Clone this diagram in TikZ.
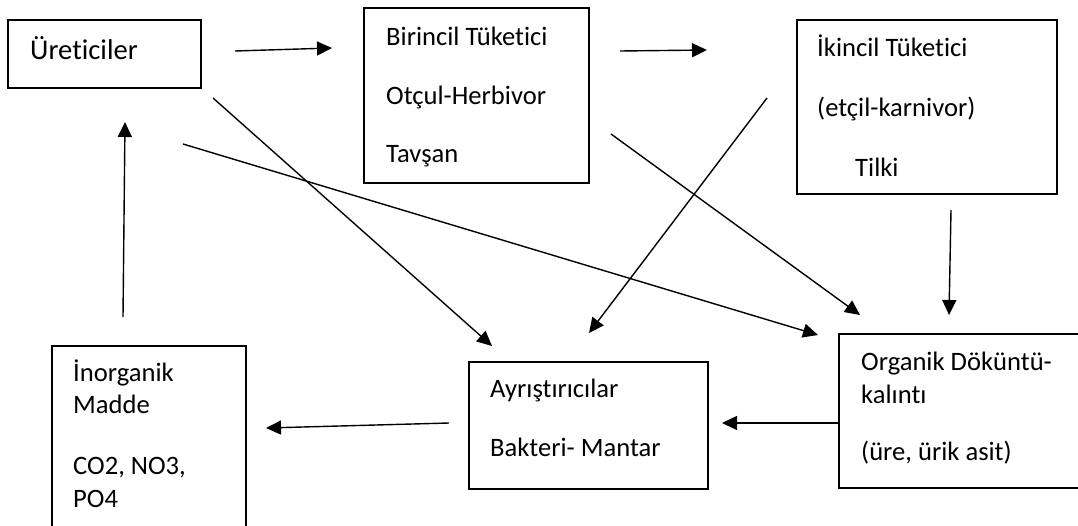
\documentclass[tikz,border=0pt]{standalone}
\usepackage{fontspec}
\setmainfont{Carlito}[Ligatures={NoCommon,NoRequired,NoContextual}]
\usetikzlibrary{arrows.meta}
\begin{document}
\begin{tikzpicture}[x=1pt,y=-1pt,
  box/.style={draw,line width=1.6pt,inner sep=0pt},
  txt/.style={anchor=base west,inner sep=0pt,font=\fontsize{26.6}{32.2}\selectfont},
  arr/.style={line width=1.4pt,-{Triangle[length=15pt,width=14pt]}}]
\useasboundingbox (0,0) rectangle (1078,525);
\clip (0,0) rectangle (1078,525);
% boxes
\draw[box] (8,20) rectangle (201,88) node[midway] (ure) {};
\draw[box] (364,8) rectangle (589,183) node[midway] (bir) {};
\draw[box] (797,20) rectangle (1057,194) node[midway] (iki) {};
\draw[box] (52,346) rectangle (246,540) node[midway] (ino) {};
\draw[box] (469,362) rectangle (708,489) node[midway] (ayr) {};
\draw[box] (839,334) rectangle (1090,488) node[midway] (org) {};
% texts
\node[txt,font=\fontsize{28.6}{34}\selectfont] (t1) at (30,59) {Üreticiler};
\node[txt] (t2a) at (386,45) {Birincil Tüketici};
\node[txt] (t2b) at (386,104) {Otçul-Herbivor};
\node[txt] (t2c) at (386,162) {Tavşan};
\node[txt] (t3a) at (817,56) {İkincil Tüketici};
\node[txt] (t3b) at (817,116) {(etçil-karnivor)};
\node[txt] (t3c) at (855,176) {Tilki};
\node[txt] (t4a) at (73,381) {İnorganik};
\node[txt] (t4b) at (73,413) {Madde};
\node[txt] (t4c) at (73,474) {CO2, NO3,};
\node[txt] (t4d) at (73,507) {PO4};
\node[txt] (t5a) at (490,397) {Ayrıştırıcılar};
\node[txt] (t5b) at (490,456) {Bakteri- Mantar};
\node[txt] (t6a) at (861,370) {Organik Döküntü-};
\node[txt] (t6b) at (861,403) {kalıntı};
\node[txt] (t6c) at (861,460) {(üre, ürik asit)};
% connector end points
\coordinate (a1s) at (235,51); \coordinate (a1e) at (332,48);
\coordinate (a2s) at (620,51); \coordinate (a2e) at (707,50);
\coordinate (a3s) at (951,210); \coordinate (a3e) at (949,315);
\coordinate (a4s) at (839,423); \coordinate (a4e) at (722,423);
\coordinate (a5s) at (449,423); \coordinate (a5e) at (266,428);
\coordinate (a6s) at (123,317); \coordinate (a6e) at (125,122);
\coordinate (a7s) at (213,98); \coordinate (a7e) at (492,346);
\coordinate (a8s) at (183,144); \coordinate (a8e) at (818,335);
\coordinate (a9s) at (611,134); \coordinate (a9e) at (860,315);
\coordinate (a10s) at (767,98); \coordinate (a10e) at (589,333);
% connectors
\draw[arr] (a1s) -- (a1e);
\draw[arr] (a2s) -- (a2e);
\draw[arr] (a3s) -- (a3e);
\draw[arr] (a4s) -- (a4e);
\draw[arr] (a5s) -- (a5e);
\draw[arr] (a6s) -- (a6e);
\draw[arr] (a7s) -- (a7e);
\draw[arr] (a8s) -- (a8e);
\draw[arr] (a9s) -- (a9e);
\draw[arr] (a10s) -- (a10e);
\end{tikzpicture}
\end{document}
